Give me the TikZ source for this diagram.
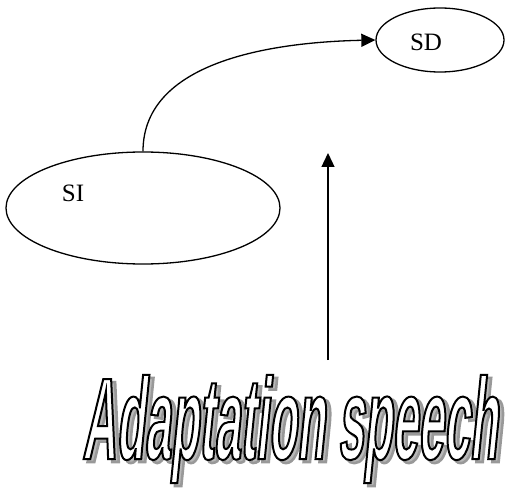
\documentclass[tikz,border=0pt]{standalone}
\usepackage{fontspec}
\setmainfont{Liberation Serif}
\newfontfamily\wafont[FakeStretch=0.4,FakeSlant=0.1]{Liberation Sans}
\usetikzlibrary{shapes.geometric,arrows.meta}
\newcommand\outlineon[2]{\special{pdf:literal direct 2 Tr #1 w #2 G}}
\newcommand\outlineoff{\special{pdf:literal direct 0 Tr}}
\tikzset{
  state/.style={ellipse, draw, line width=1.3bp, inner sep=0pt},
  lbl/.style={font=\fontsize{25bp}{25bp}\selectfont},
  conn/.style={line width=1.3bp, -{Triangle[length=14bp,width=13bp]}},
  wa/.style={font=\wafont\bfseries\fontsize{116bp}{116bp}\selectfont, inner sep=0pt}
}
\begin{document}
\begin{tikzpicture}[x=1bp,y=-1bp]
\useasboundingbox (0,0) rectangle (507,488);
\node[state, minimum width=128bp, minimum height=64bp,
      label={[lbl, xshift=-14bp, yshift=-2bp]center:SD}] (SD) at (440,40) {};
\node[state, minimum width=274bp, minimum height=112bp,
      label={[lbl, xshift=-70bp, yshift=15bp]center:SI}] (SI) at (143,208) {};
\draw[conn] (SI.north) .. controls +(0,-93) and +(-95,2) .. (SD.west);
\coordinate (abot) at (328,360);
\coordinate (atop) at (328,153);
\draw[conn] (abot) -- (atop);
\node[wa, text=gray!55, anchor=base] (shadow) at (294,462) {\outlineon{2.6}{0.6}Adaptation speech\outlineoff};
\node[wa, text=white, anchor=base] (title) at (290,459) {\outlineon{2}{0}Adaptation speech\outlineoff};
\end{tikzpicture}
\end{document}
